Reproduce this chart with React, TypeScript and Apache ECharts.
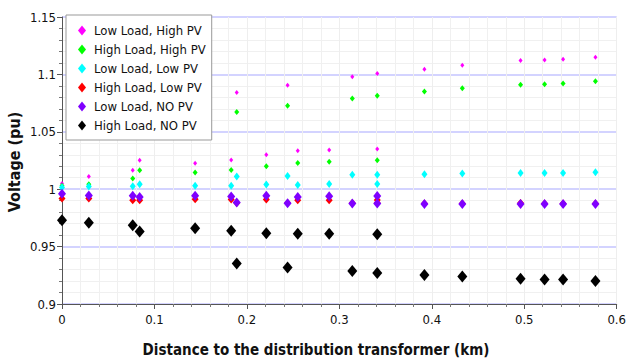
import React, { useEffect, useRef } from "react";
import * as echarts from "echarts";

const distances = [0.0, 0.029, 0.0765, 0.084, 0.144, 0.183, 0.189, 0.221, 0.244, 0.255, 0.289, 0.314, 0.341, 0.341, 0.392, 0.433, 0.496, 0.522, 0.542, 0.577];
const lowLoadHighPV = [1.005, 1.011, 1.0166, 1.0253, 1.0226, 1.0255, 1.0842, 1.03, 1.0906, 1.0334, 1.0342, 1.098, 1.1007, 1.035, 1.1045, 1.108, 1.112, 1.1126, 1.1132, 1.115];
const highLoadHighPV = [1.003, 1.0044, 1.0093, 1.0166, 1.0145, 1.0168, 1.0673, 1.02, 1.0728, 1.0229, 1.024, 1.079, 1.0815, 1.0252, 1.085, 1.088, 1.091, 1.0915, 1.092, 1.094];
const lowLoadLowPV = [1.0014, 1.0023, 1.0026, 1.0044, 1.0029, 1.0029, 1.011, 1.004, 1.0116, 1.0037, 1.0046, 1.0125, 1.0125, 1.0046, 1.013, 1.0136, 1.0142, 1.0142, 1.0142, 1.0148];
const highLoadLowPV = [0.992, 0.9918, 0.9904, 0.9904, 0.9913, 0.991, 0.988, 0.991, 0.988, 0.9904, 0.9904, 0.988, 0.988, 0.9906, 0.9875, 0.9875, 0.988, 0.9875, 0.9875, 0.9875];
const lowLoadNoPV = [0.996, 0.9945, 0.9942, 0.9933, 0.9942, 0.9936, 0.9884, 0.9942, 0.9878, 0.9933, 0.9939, 0.9875, 0.9875, 0.994, 0.9872, 0.9872, 0.9872, 0.9872, 0.9872, 0.9872];
const highLoadNoPV = [0.973, 0.9707, 0.9686, 0.9631, 0.966, 0.9637, 0.9352, 0.9617, 0.9317, 0.9613, 0.9613, 0.9288, 0.927, 0.9608, 0.9253, 0.924, 0.922, 0.9213, 0.9213, 0.92];

const seriesNames = ["Low Load, High PV", "High Load, High PV", "Low Load, Low PV", "High Load, Low PV", "Low Load, NO PV", "High Load, NO PV"];
const seriesValues = [lowLoadHighPV, highLoadHighPV, lowLoadLowPV, highLoadLowPV, lowLoadNoPV, highLoadNoPV];
const seriesColors = ["#ff00ff", "#00ff00", "#00ffff", "#ff0000", "#7f00ff", "#000000"];
const symbolSizes: [number, number][] = [[4, 5], [5, 6], [6, 8], [7, 8], [8, 10], [10, 12]];

const FONT = "'DejaVu Sans Condensed', 'DejaVu Sans', sans-serif";

export default function App() {
  const ref = useRef<HTMLDivElement>(null);
  useEffect(() => {
    if (!ref.current) return;
    const chart = echarts.init(ref.current, undefined, { renderer: "svg" });
    const option: any = {
      animation: false,
      backgroundColor: "#ffffff",
      grid: { left: 62, right: 7, top: 17, bottom: 56, containLabel: false },
      legend: {
        orient: "vertical",
        left: 66,
        top: 15,
        padding: [9, 6, 8, 12],
        itemGap: 6,
        itemWidth: 8,
        itemHeight: 10,
        backgroundColor: "#ffffff",
        borderColor: "#999999",
        borderWidth: 1,
        textStyle: { fontFamily: FONT, fontSize: 13, color: "#111111", padding: [0, 0, 0, 3] },
        data: seriesNames.map((n) => ({ name: n, icon: "diamond" })),
      },
      xAxis: {
        type: "value",
        min: 0,
        max: 0.6,
        interval: 0.1,
        axisLine: { show: true, lineStyle: { color: "#555555", width: 1 } },
        axisTick: { show: true, length: 5, lineStyle: { color: "#555555" } },
        minorTick: { show: true, splitNumber: 5, length: 3, lineStyle: { color: "#777777" } },
        axisLabel: { fontFamily: FONT, fontSize: 13, color: "#111111", margin: 9 },
        splitLine: { show: true, lineStyle: { color: "#eeeeee", width: 1 } },
        minorSplitLine: { show: true, lineStyle: { color: "#f0f0f0", width: 1 } },
      },
      yAxis: {
        type: "value",
        min: 0.9,
        max: 1.15,
        interval: 0.05,
        axisLine: { show: true, lineStyle: { color: "#555555", width: 1 } },
        axisTick: { show: true, length: 5, lineStyle: { color: "#555555" } },
        minorTick: { show: true, splitNumber: 5, length: 3, lineStyle: { color: "#777777" } },
        axisLabel: {
          fontFamily: FONT,
          fontSize: 13,
          color: "#111111",
          margin: 6,
          formatter: (v: number) => String(parseFloat(v.toFixed(2))),
        },
        splitLine: { show: true, lineStyle: { color: "#c4c4ff", width: 1.5 } },
        minorSplitLine: { show: true, lineStyle: { color: "#f0f0f0", width: 1 } },
      },
      graphic: [
        {
          type: "text",
          x: 316,
          y: 350,
          style: {
            text: "Distance to the distribution transformer (km)",
            fontFamily: FONT,
            fontWeight: "bold",
            fontSize: 15,
            fill: "#111111",
            textAlign: "center",
            textVerticalAlign: "middle",
          },
        },
        {
          type: "text",
          x: 14,
          y: 162,
          rotation: Math.PI / 2,
          style: {
            text: "Voltage (pu)",
            fontFamily: FONT,
            fontWeight: "bold",
            fontSize: 16,
            fill: "#111111",
            textAlign: "center",
            textVerticalAlign: "middle",
          },
        },
      ],
      series: seriesNames.map((name, i) => ({
        name,
        type: "scatter",
        symbol: "diamond",
        symbolSize: symbolSizes[i],
        itemStyle: { color: seriesColors[i], opacity: 1 },
        emphasis: { disabled: true },
        data: distances.map((d, j) => [d, seriesValues[i][j]]),
        z: 2 + i,
      })),
    };
    chart.setOption(option);
    return () => chart.dispose();
  }, []);
  return <div ref={ref} style={{ width: 629, height: 360, position: "absolute", left: 0, top: 0 }} />;
}
